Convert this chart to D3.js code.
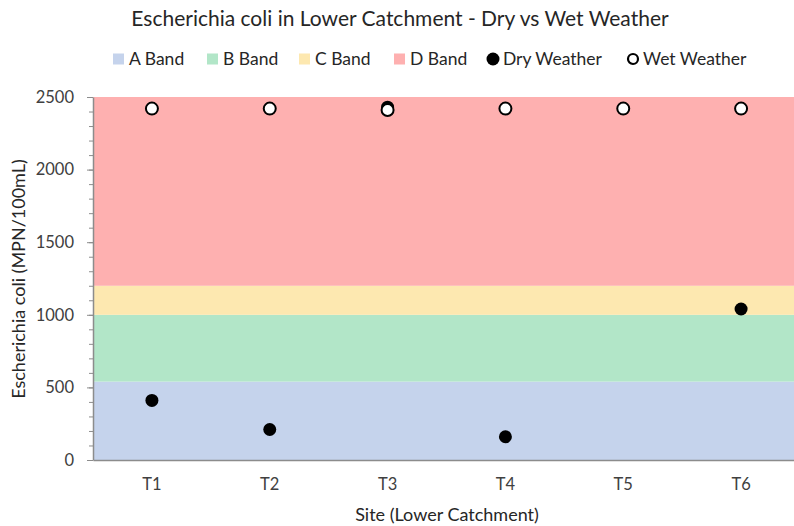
<!DOCTYPE html>
<html>
<script src="https://cdn.jsdelivr.net/npm/d3@7"></script>
<style>
    body { margin: 0; background: #fff; }
    text { font-family: Lato, "Open Sans", sans-serif; fill: #262626; }
    .tick text { font-size: 16.5px; fill: #404040; font-family: Lato, sans-serif; }
</style>
<body></body>
<script>
    const width = 794,
        height = 526;

    // data
    const sites = ["T1", "T2", "T3", "T4", "T5", "T6"];
    const dryWeather = [410, 210, 2430, 160, null, 1040];
    const wetWeather = [2420, 2420, 2410, 2420, 2420, 2420];
    const bands = [
        {name: "A Band", lo: 0, hi: 540, color: "#c5d3ec"},
        {name: "B Band", lo: 540, hi: 1000, color: "#b2e6c8"},
        {name: "C Band", lo: 1000, hi: 1200, color: "#fde8b0"},
        {name: "D Band", lo: 1200, hi: 2500, color: "#feb0b0"}
    ];
    const yTicks = [0, 500, 1000, 1500, 2000, 2500];

    const svg = d3.select("body").append("svg").attr("width", width).attr("height", height);

    const x = d3.scaleBand().domain(sites).range([93, 800]);
    const y = d3.scaleLinear().domain([0, 2500]).range([460, 97]);

    // colour bands
    svg.append("g").selectAll("rect")
        .data(bands)
        .join("rect")
        .attr("x", 93)
        .attr("width", 800 - 93)
        .attr("y", d => y(d.hi))
        .attr("height", d => y(d.lo) - y(d.hi))
        .attr("fill", d => d.color);

    // minor ticks
    const yAxisMinor = svg.append("g")
        .attr("transform", "translate(93,0)")
        .call(d3.axisLeft(y).tickValues(d3.range(0, 2501, 100)).tickSize(4).tickFormat(""));
    yAxisMinor.selectAll("line").attr("stroke", "#8c8c8c");
    yAxisMinor.select(".domain").remove();

    const yAxis = svg.append("g")
        .attr("transform", "translate(93,0)")
        .call(d3.axisLeft(y).tickValues(yTicks).tickSize(6).tickPadding(13).tickSizeOuter(0).tickFormat(d3.format("d")));
    yAxis.selectAll("line").attr("stroke", "#8c8c8c");
    yAxis.select(".domain").attr("stroke", "#8c8c8c").attr("stroke-width", 1.5);

    const xAxis = svg.append("g")
        .attr("transform", "translate(0,460)")
        .call(d3.axisBottom(x).tickSize(0).tickPadding(18));
    xAxis.select(".domain").attr("stroke", "#8c8c8c").attr("stroke-width", 1.5);

    // points
    const dry = sites.map((s, i) => ({site: s, v: dryWeather[i]})).filter(d => d.v != null);
    const wet = sites.map((s, i) => ({site: s, v: wetWeather[i]}));
    svg.append("g").selectAll("circle")
        .data(dry)
        .join("circle")
        .attr("cx", d => x(d.site) + x.bandwidth() / 2)
        .attr("cy", d => y(d.v))
        .attr("r", 6.5)
        .attr("fill", "black");
    svg.append("g").selectAll("circle")
        .data(wet)
        .join("circle")
        .attr("cx", d => x(d.site) + x.bandwidth() / 2)
        .attr("cy", d => y(d.v))
        .attr("r", 6)
        .attr("fill", "white")
        .attr("stroke", "black")
        .attr("stroke-width", 2);

    // titles
    svg.append("text")
        .attr("x", 400).attr("y", 26)
        .attr("text-anchor", "middle")
        .attr("font-size", 21)
        .text("Escherichia coli in Lower Catchment - Dry vs Wet Weather");
    svg.append("text")
        .attr("x", 447).attr("y", 521)
        .attr("text-anchor", "middle")
        .attr("font-size", 18)
        .text("Site (Lower Catchment)");
    svg.append("text")
        .attr("transform", "translate(25,279) rotate(-90)")
        .attr("text-anchor", "middle")
        .attr("font-size", 18)
        .text("Escherichia coli (MPN/100mL)");

    // legend
    const legendItems = [
        {name: "A Band", type: "rect", color: bands[0].color, x: 113},
        {name: "B Band", type: "rect", color: bands[1].color, x: 207},
        {name: "C Band", type: "rect", color: bands[2].color, x: 299},
        {name: "D Band", type: "rect", color: bands[3].color, x: 394},
        {name: "Dry Weather", type: "dry", x: 487},
        {name: "Wet Weather", type: "wet", x: 627}
    ];
    const legend = svg.append("g").selectAll("g")
        .data(legendItems)
        .join("g")
        .attr("transform", d => `translate(${d.x},59)`);
    legend.filter(d => d.type === "rect").append("rect")
        .attr("x", 0).attr("y", -5.5).attr("width", 11).attr("height", 11)
        .attr("fill", d => d.color);
    legend.filter(d => d.type !== "rect").append("circle")
        .attr("cx", 6).attr("cy", 0)
        .attr("r", d => d.type === "dry" ? 6.5 : 5)
        .attr("fill", d => d.type === "dry" ? "black" : "white")
        .attr("stroke", "black")
        .attr("stroke-width", d => d.type === "dry" ? 0 : 2.2);
    legend.append("text")
        .attr("x", 16)
        .attr("y", 6)
        .attr("font-size", 17.5)
        .text(d => d.name);
</script>

</html>
